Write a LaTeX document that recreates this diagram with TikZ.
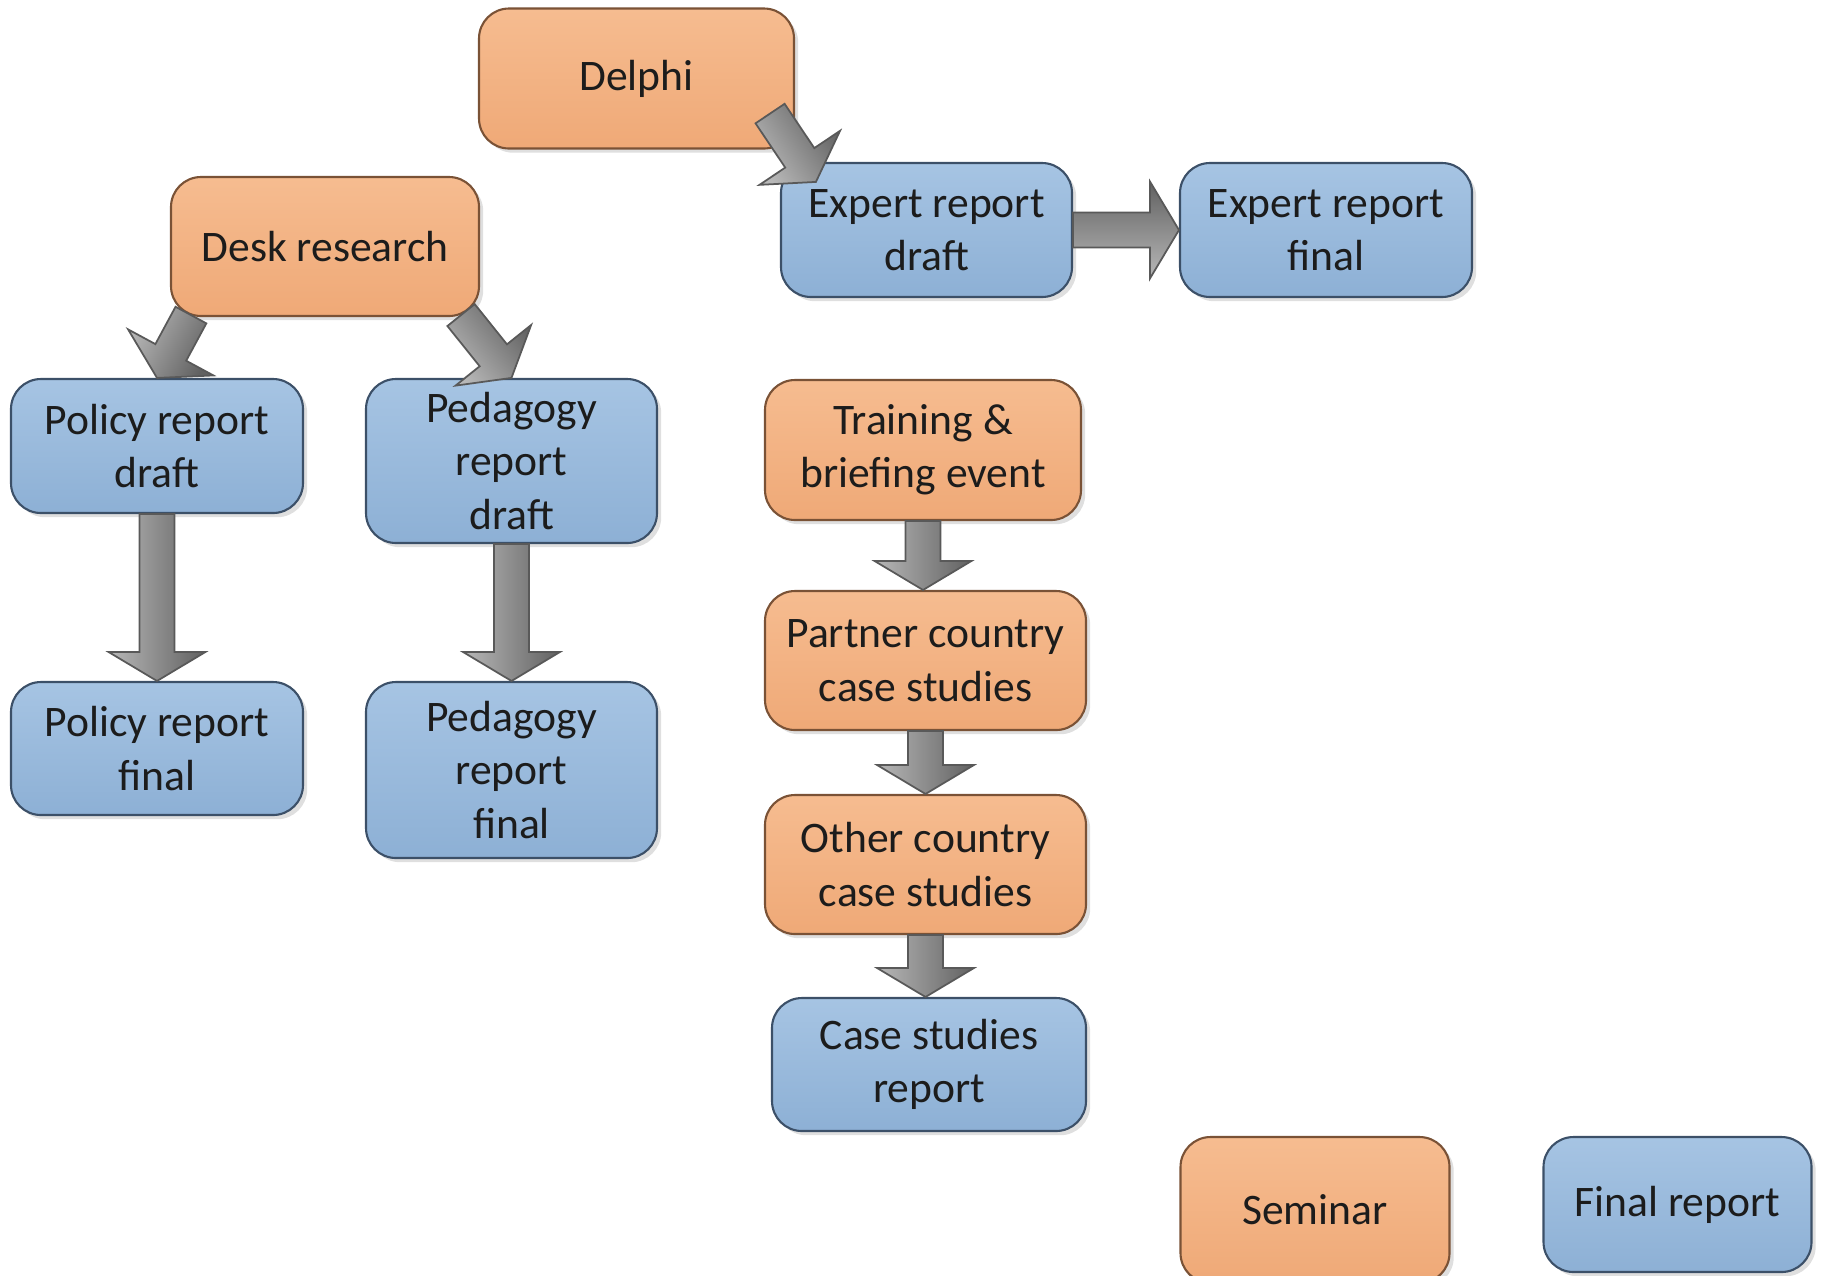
\documentclass[tikz,border=0pt]{standalone}
\usepackage{fontspec}
\setmainfont{Carlito}
\usetikzlibrary{calc,shadows}

\definecolor{orangetop}{HTML}{F6BC90}
\definecolor{orangebot}{HTML}{EFA977}
\definecolor{orangeline}{HTML}{7A5236}
\definecolor{bluetop}{HTML}{A6C4E3}
\definecolor{bluebot}{HTML}{8DB0D5}
\definecolor{blueline}{HTML}{3C5068}
\definecolor{textgrey}{HTML}{1C1C1C}

\tikzset{
  box/.style={rectangle, rounded corners=0.3cm, align=center, inner sep=2pt,
    minimum width=2.91cm, minimum height=1.34cm, text=textgrey,
    font=\fontsize{12.4pt}{15.2pt}\selectfont, line width=0.6pt,
    drop shadow={shadow xshift=1.2pt, shadow yshift=-1.2pt, opacity=0.25}},
  orangebox/.style={box, draw=orangeline, top color=orangetop, bottom color=orangebot},
  bluebox/.style={box, draw=blueline, top color=bluetop, bottom color=bluebot},
  blockarrow/.style={draw=black!65, line width=0.5pt, left color=black!28, right color=black!62}
}

% grey block arrow from #1 to #2
\newcommand{\blockarrow}[2]{%
  \path (#1) coordinate (bas) (#2) coordinate (bae);
  \pgfmathanglebetweenpoints{\pgfpointanchor{bas}{center}}{\pgfpointanchor{bae}{center}}%
  \let\baangle\pgfmathresult
  \pgfpointdiff{\pgfpointanchor{bas}{center}}{\pgfpointanchor{bae}{center}}%
  \pgfgetlastxy{\badx}{\bady}%
  \pgfmathsetmacro\balen{veclen(\badx,\bady)}%
  \pgfmathsetmacro\bashade{\baangle+180}%
  \shade[blockarrow, shading angle=\bashade, shift={(bas)}, rotate=\baangle]
    (0pt,0.175cm) -- (\balen pt-0.29cm,0.175cm) -- (\balen pt-0.29cm,0.485cm)
    -- (\balen pt,0pt) -- (\balen pt-0.29cm,-0.485cm) -- (\balen pt-0.29cm,-0.175cm)
    -- (0pt,-0.175cm) -- cycle;
}

\begin{document}
\begin{tikzpicture}

\useasboundingbox (0,0) rectangle (18.22,-12.75);

\node[orangebox, minimum width=3.15cm, minimum height=1.40cm] (a1) at (6.365,-0.785) {Delphi};
\node[orangebox, minimum width=3.08cm, minimum height=1.39cm] (a2) at (3.25,-2.465) {Desk research};
\node[bluebox] (a3) at (9.265,-2.30) {Expert report\\draft};
\node[bluebox, minimum width=2.92cm] (a4) at (13.26,-2.30) {Expert report\\final};

\node[bluebox, minimum width=2.92cm] (a5) at (1.57,-4.46) {Policy report\\draft};
\node[bluebox, minimum height=1.64cm] (a6) at (5.115,-4.61) {Pedagogy\\report\\draft};
\node[bluebox, minimum width=2.92cm, minimum height=1.33cm] (a7) at (1.57,-7.485) {Policy report\\final};
\node[bluebox, minimum height=1.76cm] (a8) at (5.115,-7.70) {Pedagogy\\report\\final};

\node[orangebox, minimum width=3.16cm, minimum height=1.40cm] (a9) at (9.23,-4.50) {Training \&\\briefing event};
\node[orangebox, minimum width=3.21cm, minimum height=1.39cm] (a10) at (9.255,-6.605) {Partner country\\case studies};
\node[orangebox, minimum width=3.21cm, minimum height=1.39cm] (a11) at (9.255,-8.645) {Other country\\case studies};
\node[bluebox, minimum width=3.14cm, minimum height=1.33cm] (a12) at (9.29,-10.645) {Case studies\\report};

\node[orangebox, minimum width=2.69cm, minimum height=1.46cm] (a13) at (13.15,-12.10) {Seminar};
\node[bluebox, minimum width=2.68cm, minimum height=1.35cm] (a14) at (16.775,-12.045) {Final report};

\coordinate (d1) at ($(a1.south east)+(-0.25,0.36)$);
\coordinate (d2) at ($(a3.north west)+(0.36,-0.20)$);
\coordinate (d3) at ($(a2.south west)+(0.21,0.02)$);
\coordinate (d4) at ($(a2.south east)+(-0.19,0.02)$);

\blockarrow{d1}{d2}
\blockarrow{d3}{a5.north}
\blockarrow{d4}{a6.north}
\blockarrow{a3.east}{a3.east -| a4.west}
\blockarrow{a5.south}{a5.south |- a7.north}
\blockarrow{a6.south}{a6.south |- a8.north}
\blockarrow{a9.south}{a9.south |- a10.north}
\blockarrow{a10.south}{a10.south |- a11.north}
\blockarrow{a11.south}{a11.south |- a12.north}

\end{tikzpicture}
\end{document}
